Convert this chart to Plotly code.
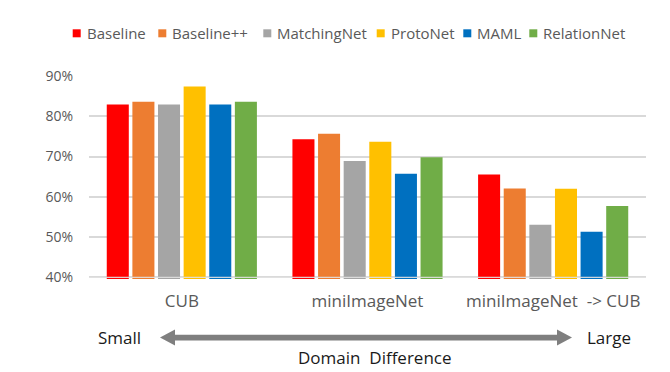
import plotly.graph_objects as go

# ---- data ----
categories = ["CUB", "miniImageNet", "miniImageNet\u00a0 -> CUB"]
methods = ["Baseline", "Baseline++", "MatchingNet", "ProtoNet", "MAML", "RelationNet"]
baseline = [82.9, 74.27, 65.57]
baseline_pp = [83.6, 75.68, 62.04]
matchingnet = [82.9, 68.88, 53.07]
protonet = [87.4, 73.68, 62.02]
maml = [82.9, 65.72, 51.34]
relationnet = [83.6, 69.83, 57.71]
y_ticks = [40, 50, 60, 70, 80, 90]
y_tick_labels = ["40%", "50%", "60%", "70%", "80%", "90%"]

series = [baseline, baseline_pp, matchingnet, protonet, maml, relationnet]
colors = ["#FF0000", "#ED7D31", "#A5A5A5", "#FFC000", "#0070C0", "#70AD47"]

FONT = "Open Sans"
OFF = 8  # page body margin in the browser
W, H = 670 - OFF, 372 - OFF
ML, MT = 89 - OFF, 76 - OFF
MR = 24
MB = H - (279 - OFF)
PW, PH = W - ML - MR, H - MT - MB


def px_x(px):
    # px: x position measured in the 670x372 screenshot
    return (px - OFF - ML) / PW


def px_y(py):
    return (MT + PH - (py - OFF)) / PH


fig = go.Figure()
for name, vals, col in zip(methods, series, colors):
    fig.add_trace(go.Bar(x=categories, y=vals, name=name, marker_color=col,
                         marker_line_width=0, showlegend=False))

shapes = []
annotations = []

# manual legend (squares + labels)
legend_sq_left = [72.7, 158.3, 263.3, 376.7, 463.3, 529.3]
leg_y = 33.3
for name, col, sx in zip(methods, colors, legend_sq_left):
    shapes.append(dict(type="rect", xref="paper", yref="paper",
                       xsizemode="pixel", ysizemode="pixel",
                       xanchor=px_x(sx), yanchor=px_y(leg_y),
                       x0=0, x1=8, y0=-4, y1=4,
                       fillcolor=col, line=dict(width=0), layer="above"))
    annotations.append(dict(text=name, xref="paper", yref="paper",
                            x=px_x(sx + 12), y=px_y(leg_y),
                            xanchor="left", yanchor="middle", showarrow=False,
                            font=dict(family=FONT, size=15, color="#595959")))

# 40% baseline line drawn over bars
shapes.append(dict(type="line", xref="paper", yref="y", x0=0, x1=1, y0=40, y1=40,
                   line=dict(color="rgba(225,225,225,0.9)", width=1.2), layer="above"))

# double-headed arrow
ax_c = (160 + 572) / 2
ay_c = 337.6
half = (572 - 160) / 2
hl, hh, sh = 15, 8, 2.8
path = (f"M{-half},0 L{-half + hl},{hh} L{-half + hl},{sh} L{half - hl},{sh} "
        f"L{half - hl},{hh} L{half},0 L{half - hl},{-hh} L{half - hl},{-sh} "
        f"L{-half + hl},{-sh} L{-half + hl},{-hh} Z")
shapes.append(dict(type="path", xref="paper", yref="paper",
                   xsizemode="pixel", ysizemode="pixel",
                   xanchor=px_x(ax_c), yanchor=px_y(ay_c), path=path,
                   fillcolor="#7F7F7F", line=dict(width=0)))

annotations += [
    dict(text="Small", xref="paper", yref="paper", x=px_x(119.7), y=px_y(337.5),
         xanchor="center", yanchor="middle", showarrow=False,
         font=dict(family=FONT, size=17, color="#1a1a1a")),
    dict(text="Large", xref="paper", yref="paper", x=px_x(609.2), y=px_y(337.5),
         xanchor="center", yanchor="middle", showarrow=False,
         font=dict(family=FONT, size=17, color="#1a1a1a")),
    dict(text="Domain\u00a0 Difference", xref="paper", yref="paper", x=px_x(375),
         y=px_y(357.5), xanchor="center", yanchor="middle", showarrow=False,
         font=dict(family=FONT, size=17, color="#1a1a1a")),
]

fig.update_layout(
    width=W, height=H,
    margin=dict(l=ML, r=MR, t=MT, b=MB, pad=0),
    paper_bgcolor="white", plot_bgcolor="white",
    barmode="group", bargap=0.172, bargroupgap=0.14,
    shapes=shapes, annotations=annotations,
    font=dict(family=FONT),
)
fig.update_xaxes(showgrid=False, showline=False, zeroline=False, ticks="",
                 tickfont=dict(family=FONT, size=17, color="#595959"),
                 ticklabelstandoff=10)
fig.update_yaxes(range=[39.6, 90], tickvals=y_ticks, ticktext=y_tick_labels,
                 showgrid=True, gridcolor="#D9D9D9", gridwidth=1.5,
                 zeroline=False, showline=False, ticks="",
                 tickfont=dict(family=FONT, size=14, color="#595959"),
                 ticklabelstandoff=15)

fig.write_html("out.html")
